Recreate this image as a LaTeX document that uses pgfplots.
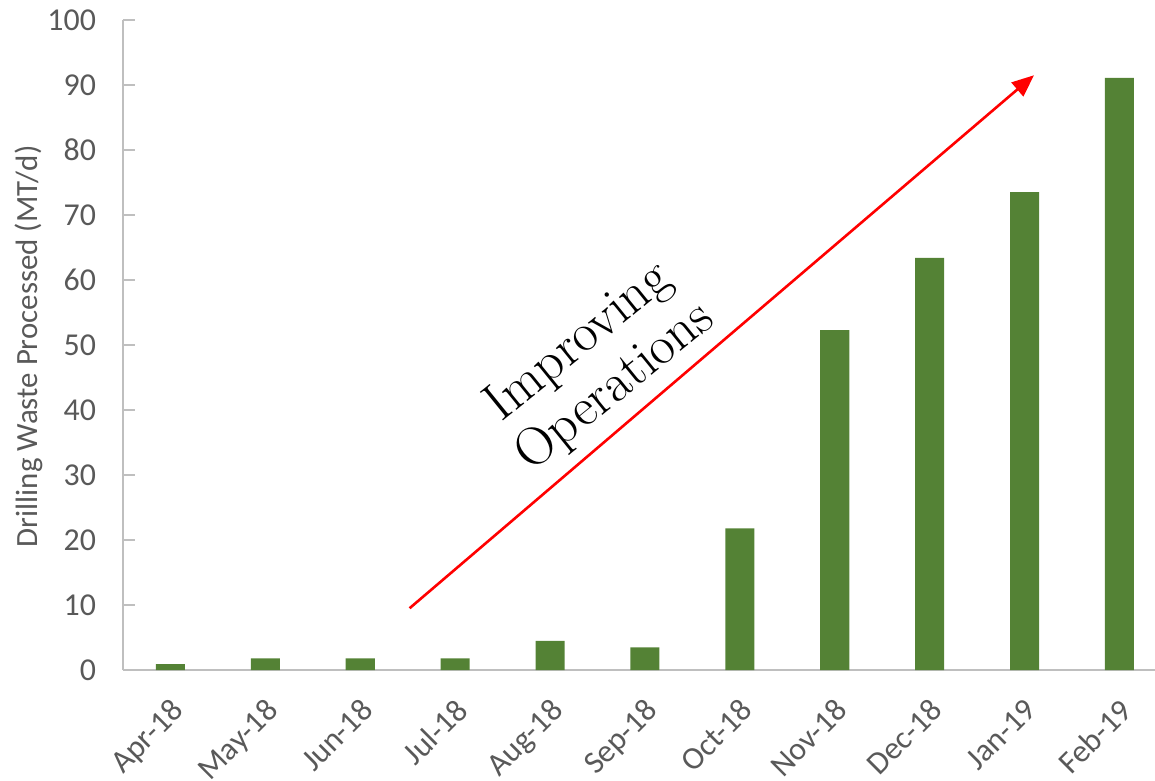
\documentclass[border=0pt]{standalone}
\usepackage{fontspec}
\usepackage{pgfplots}
\pgfplotsset{compat=1.18}
\usepackage{pgfplotstable}
\usetikzlibrary{arrows.meta}
\newfontfamily\calibri{Carlito}

\definecolor{bargreen}{HTML}{548235}
\definecolor{axisgray}{HTML}{BFBFBF}
\definecolor{textgray}{HTML}{595959}

% monthly drilling waste processed, MT/d
\pgfplotstableread{
idx value
0  0.9
1  1.8
2  1.8
3  1.8
4  4.5
5  3.5
6  21.8
7  52.3
8  63.4
9  73.5
10 91.1
}\wastedata

\begin{document}
\begin{tikzpicture}
\begin{axis}[
  scale only axis,
  width=516bp, height=325bp,
  xmin=-0.5, xmax=10.375,
  ymin=0, ymax=100,
  clip=false,
  axis x line=bottom, axis y line=left,
  axis line style={draw=axisgray, line width=0.8bp, -},
  xtick={0,...,10},
  xticklabels={Apr-18,May-18,Jun-18,Jul-18,Aug-18,Sep-18,Oct-18,Nov-18,Dec-18,Jan-19,Feb-19},
  x tick style={draw=none},
  ytick={0,10,...,100},
  y tick style={draw=axisgray, line width=0.6bp},
  tick align=inside,
  major tick length=6bp,
  /pgf/number format/assume math mode=true,
  tick label style={font=\calibri\fontsize{16}{18}\selectfont, text=textgray},
  yticklabel style={xshift=-10bp},
  xticklabel style={yshift=-8.5bp, xshift=-0.5bp, rotate=45, anchor=north east},
  ylabel={Drilling Waste Processed (MT/d)},
  every axis y label/.style={at={(rel axis cs:0,0.498)}, xshift=-47bp, rotate=90, anchor=center,
    font=\calibri\fontsize{15.5}{17}\selectfont, text=textgray},
]
\addplot[ybar, bar width=0.306, fill=bargreen, draw=none] table[x=idx, y=value] {\wastedata};

\draw[red, line width=1.3bp, -{Triangle[length=11bp, width=9bp]}]
  (axis cs:2.52,9.5) -- (axis cs:9.10,91.5);
\node[rotate=39, align=center, font=\fontsize{27}{29}\selectfont, inner sep=0pt]
  at (axis cs:4.5,46.9) {Improving\\Operations};
\end{axis}
\pgfresetboundingbox
\path[use as bounding box] (-61.5bp,-55.5bp) rectangle (516bp,335bp);
\end{tikzpicture}
\end{document}
